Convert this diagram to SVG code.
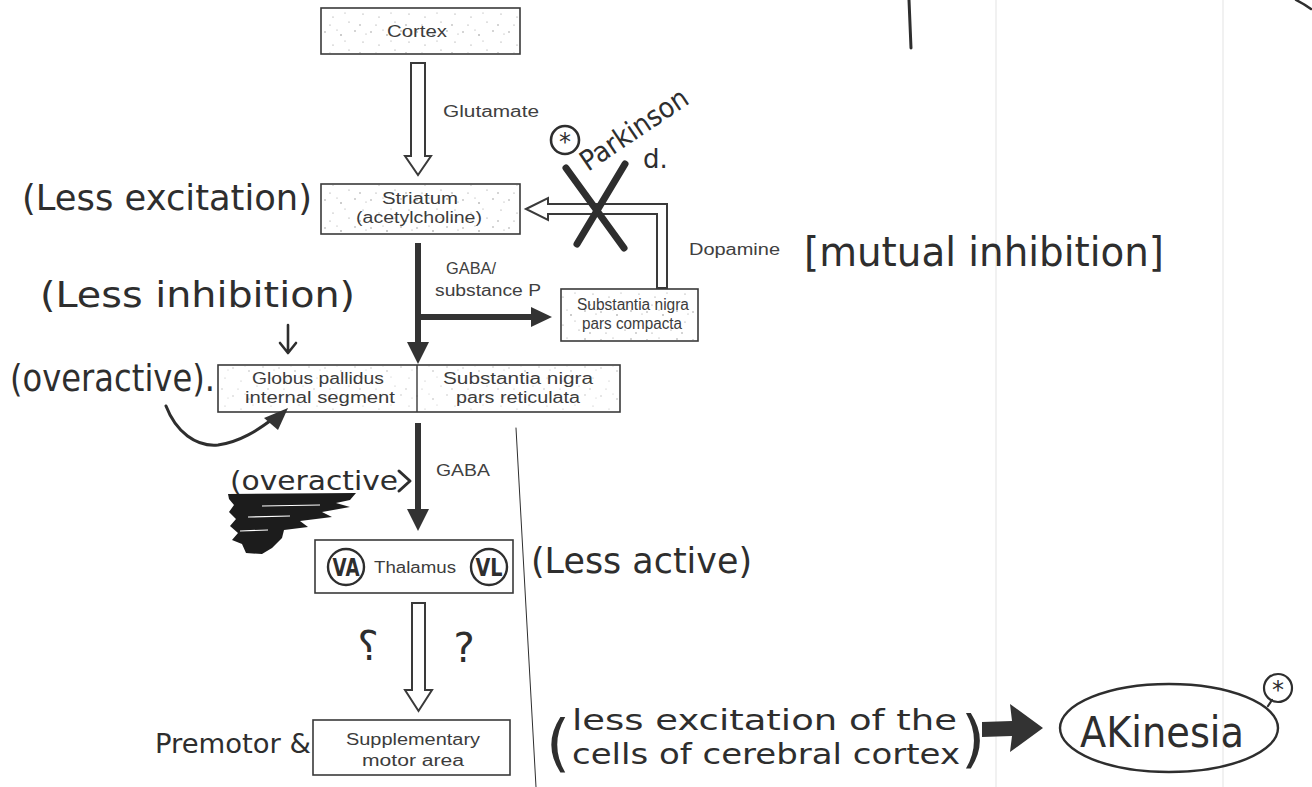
<svg xmlns="http://www.w3.org/2000/svg" width="1312" height="787" viewBox="0 0 1312 787">
  <defs>
    <pattern id="stipple" width="46" height="28" patternUnits="userSpaceOnUse">
      <g fill="#8a8a8a">
        <circle cx="3" cy="4" r="0.7"/><circle cx="11" cy="17" r="0.6"/><circle cx="19" cy="7" r="0.8"/>
        <circle cx="27" cy="22" r="0.6"/><circle cx="33" cy="3" r="0.7"/><circle cx="41" cy="14" r="0.6"/>
        <circle cx="8" cy="25" r="0.6"/><circle cx="23" cy="13" r="0.5"/><circle cx="38" cy="25" r="0.7"/>
        <circle cx="15" cy="2" r="0.5"/><circle cx="44" cy="6" r="0.5"/>
      </g>
    </pattern>
    <style>
      .box { fill: #fff; stroke: #3a3a3a; stroke-width: 1.6; }
      .dots { fill: url(#stipple); }
      .lbl { font-family: "Liberation Sans", "DejaVu Sans", sans-serif; font-size: 16px; fill: #3c3c3c; text-anchor: middle; }
      .edge { font-family: "Liberation Sans", "DejaVu Sans", sans-serif; font-size: 16px; fill: #404040; }
      .hand { font-family: "DejaVu Sans", "Noto Sans", sans-serif; fill: #2e2e2e; }
      .hollow { fill: #fff; stroke: #3a3a3a; stroke-width: 2; stroke-linejoin: miter; }
      .solid { fill: #333; stroke: none; }
      .ink { fill: none; stroke: #2e2e2e; stroke-linecap: round; stroke-linejoin: round; }
    </style>
  </defs>

  <rect width="1312" height="787" fill="#fff"/>

  <!-- faint scan lines on the page -->
  <g stroke="#ececec" stroke-width="1.5">
    <line x1="996" y1="0" x2="996" y2="787"/>
    <line x1="1223" y1="0" x2="1223" y2="787"/>
  </g>

  <!-- hand-drawn marks on the page -->
  <g id="page-marks">
    <path class="ink" d="M909,0 L911,48" stroke-width="3"/>
    <path class="ink" d="M1296,0 Q1304,4 1311,9" stroke-width="2.5"/>
    <path class="ink" d="M516,428 L536,787" stroke="#555" stroke-width="1"/>
  </g>

  <!-- connectors -->
  <g id="connectors">
    <!-- Cortex to Striatum (glutamate) -->
    <path class="hollow" d="M411,63 L425,63 L425,156 L431,156 L418,175 L405,156 L411,156 Z"/>
    <text class="edge" x="443" y="117" textLength="96" lengthAdjust="spacingAndGlyphs">Glutamate</text>

    <!-- Substantia nigra pars compacta to Striatum (dopamine) -->
    <path class="hollow" d="M526,209 L548,198 L548,204 L667,204 L667,288 L657,288 L657,214 L548,214 L548,220 Z" stroke-width="2.4"/>
    <text class="edge" x="689" y="255" font-size="15" textLength="91" lengthAdjust="spacingAndGlyphs">Dopamine</text>

    <!-- Striatum to GP/SNr and SNc (GABA / substance P) -->
    <path class="solid" d="M415,243 L421,243 L421,342 L429,342 L418,364 L407,342 L415,342 Z"/>
    <path class="solid" d="M421,314 L531,314 L531,307 L552,317 L531,327 L531,320 L421,320 Z"/>
    <text class="edge" x="446" y="274" textLength="50" lengthAdjust="spacingAndGlyphs">GABA/</text>
    <text class="edge" x="435" y="296" textLength="106" lengthAdjust="spacingAndGlyphs">substance P</text>

    <!-- GP/SNr to Thalamus (GABA) -->
    <path class="solid" d="M415,423 L421,423 L421,509 L429,509 L418,531 L407,509 L415,509 Z"/>
    <text class="edge" x="436" y="476" textLength="54" lengthAdjust="spacingAndGlyphs">GABA</text>

    <!-- Thalamus to supplementary motor area -->
    <path class="hollow" d="M412,603 L425,603 L425,690 L432,690 L418.5,711 L405,690 L412,690 Z"/>
  </g>

  <!-- nodes -->
  <g id="cortex">
    <rect class="box" x="321" y="8" width="199" height="46"/>
    <rect class="dots" x="322" y="9" width="197" height="44"/>
    <text class="lbl" x="417" y="37" font-size="17" textLength="60" lengthAdjust="spacingAndGlyphs">Cortex</text>
  </g>

  <g id="striatum">
    <rect class="box" x="321" y="184" width="199" height="50"/>
    <rect class="dots" x="322" y="185" width="197" height="48"/>
    <text class="lbl" x="420" y="204" textLength="76" lengthAdjust="spacingAndGlyphs">Striatum</text>
    <text class="lbl" x="419" y="223" textLength="126" lengthAdjust="spacingAndGlyphs">(acetylcholine)</text>
  </g>

  <g id="snc">
    <rect class="box" x="561" y="289" width="137" height="52"/>
    <rect class="dots" x="562" y="290" width="135" height="50"/>
    <text class="lbl" x="633" y="310" textLength="112" lengthAdjust="spacingAndGlyphs">Substantia nigra</text>
    <text class="lbl" x="632" y="329" textLength="100" lengthAdjust="spacingAndGlyphs">pars compacta</text>
  </g>

  <g id="gp-snr">
    <rect class="box" x="218" y="365" width="402" height="47"/>
    <rect class="dots" x="219" y="366" width="400" height="45" opacity="0.6"/>
    <line x1="417" y1="365" x2="417" y2="412" stroke="#3a3a3a" stroke-width="1.4"/>
    <text class="lbl" x="318" y="384" textLength="132" lengthAdjust="spacingAndGlyphs">Globus pallidus</text>
    <text class="lbl" x="320" y="403" textLength="150" lengthAdjust="spacingAndGlyphs">internal segment</text>
    <text class="lbl" x="518" y="384" textLength="150" lengthAdjust="spacingAndGlyphs">Substantia nigra</text>
    <text class="lbl" x="518" y="403" textLength="124" lengthAdjust="spacingAndGlyphs">pars reticulata</text>
  </g>

  <g id="thalamus">
    <rect class="box" x="315" y="540" width="198" height="53"/>
    <text class="lbl" x="415" y="573" textLength="82" lengthAdjust="spacingAndGlyphs">Thalamus</text>
    <circle cx="346" cy="567" r="18" fill="none" stroke="#2e2e2e" stroke-width="2.4"/>
    <text class="hand" x="346" y="576" font-size="24" font-weight="bold" text-anchor="middle" textLength="27" lengthAdjust="spacingAndGlyphs">VA</text>
    <circle cx="489" cy="567" r="18" fill="none" stroke="#2e2e2e" stroke-width="2.4"/>
    <text class="hand" x="489" y="576" font-size="24" font-weight="bold" text-anchor="middle" textLength="27" lengthAdjust="spacingAndGlyphs">VL</text>
  </g>

  <g id="sma">
    <rect class="box" x="313" y="720" width="197" height="55"/>
    <text class="lbl" x="413" y="745" textLength="134" lengthAdjust="spacingAndGlyphs">Supplementary</text>
    <text class="lbl" x="413" y="766" textLength="102" lengthAdjust="spacingAndGlyphs">motor area</text>
  </g>

  <!-- handwritten notes -->
  <g id="notes">
    <text class="hand" x="22" y="210" font-size="36" textLength="290" lengthAdjust="spacingAndGlyphs">(Less excitation)</text>
    <text class="hand" x="40" y="307" font-size="36" textLength="315" lengthAdjust="spacingAndGlyphs">(Less inhibition)</text>
    <path class="ink" d="M288,325 L288,352 M280,343 L288,353 L296,343" stroke-width="2.6"/>
    <text class="hand" x="10" y="391" font-size="38" textLength="205" lengthAdjust="spacingAndGlyphs">(overactive).</text>
    <path class="ink" d="M166,406 C176,432 196,447 218,445 C240,442 258,430 274,418" stroke-width="3"/>
    <path class="solid" d="M264,418 L288,408 L278,430 Z"/>

    <text class="hand" x="230" y="490" font-size="27" textLength="168" lengthAdjust="spacingAndGlyphs">(overactive</text>
    <path class="ink" d="M399,471 L410,481 L399,491" stroke-width="3"/>
    <!-- heavy scribble under the note -->
    <path d="M228,494 L356,493 L350,500 L336,503 L350,507 L322,512 L332,517 L300,521 L308,527 L284,530 L282,538 L272,548 L262,554 L246,553 L242,544 L232,540 L238,533 L230,526 L236,519 L229,512 L234,505 L229,499 Z" fill="#1c1c1c"/>
    <g stroke="#fff" stroke-width="1.2" fill="none">
      <path d="M262,506 L320,505"/>
      <path d="M248,517 L290,516"/>
      <path d="M240,531 L268,530"/>
    </g>

    <text class="hand" x="531" y="573" font-size="36" textLength="221" lengthAdjust="spacingAndGlyphs">(Less active)</text>

    <text class="hand" x="368" y="660" font-size="40" text-anchor="middle" transform="translate(736,0) scale(-1,1)">?</text>
    <text class="hand" x="464" y="662" font-size="40" text-anchor="middle">?</text>

    <text class="hand" x="155" y="753" font-size="26" textLength="156" lengthAdjust="spacingAndGlyphs">Premotor &amp;</text>

    <text class="hand" x="546" y="764" font-size="62" transform="translate(0,0)">(</text>
    <text class="hand" x="572" y="730" font-size="29" textLength="385" lengthAdjust="spacingAndGlyphs">less excitation of the</text>
    <text class="hand" x="572" y="764" font-size="29" textLength="388" lengthAdjust="spacingAndGlyphs">cells of cerebral cortex</text>
    <text class="hand" x="961" y="760" font-size="62">)</text>
    <path class="solid" d="M982,722 L1012,721 L1010,704 L1043,728 L1010,752 L1012,736 L982,737 Z"/>

    <ellipse cx="1169" cy="728" rx="109" ry="44" fill="none" stroke="#2e2e2e" stroke-width="2.4"/>
    <path class="ink" d="M1268,706 L1272,700" stroke-width="2.2"/>
    <text class="hand" x="1080" y="747" font-size="42" textLength="164" lengthAdjust="spacingAndGlyphs">AKinesia</text>
    <circle cx="1278" cy="688" r="14" fill="none" stroke="#2e2e2e" stroke-width="2.2"/>
    <text class="hand" x="1278" y="698" font-size="24" text-anchor="middle">*</text>

    <text class="hand" x="804" y="266" font-size="40" textLength="360" lengthAdjust="spacingAndGlyphs">[mutual inhibition]</text>

    <!-- Parkinson's disease cross over the dopamine path -->
    <path class="ink" d="M566,168 L624,248" stroke-width="7"/>
    <path class="ink" d="M625,164 L577,244" stroke-width="7"/>
    <circle cx="565" cy="140" r="14" fill="none" stroke="#2e2e2e" stroke-width="2.6"/>
    <text class="hand" x="565" y="150" font-size="24" text-anchor="middle">*</text>
    <text class="hand" x="0" y="0" font-size="28" transform="translate(588,172) rotate(-34)" textLength="124" lengthAdjust="spacingAndGlyphs">Parkinson</text>
    <text class="hand" x="643" y="168" font-size="26">d.</text>
  </g>
</svg>
